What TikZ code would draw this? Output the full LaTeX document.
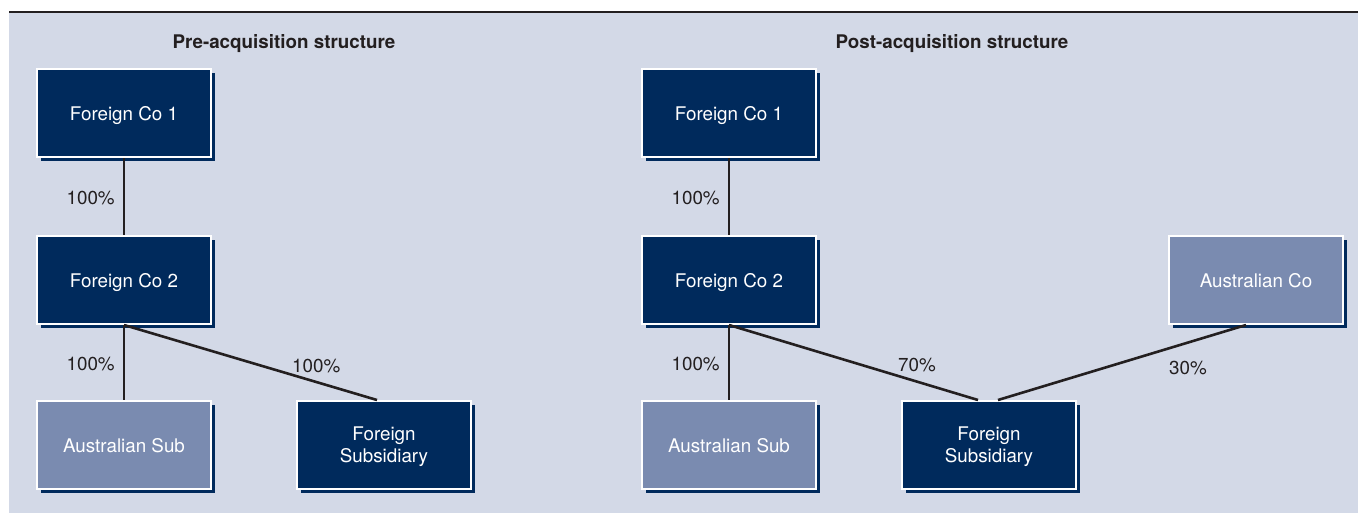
\documentclass[tikz,border=0pt]{standalone}
\usepackage{fontspec}
\setmainfont{TeX Gyre Heros}
\usetikzlibrary{positioning, shadows}

\definecolor{navy}{HTML}{002A5C}
\definecolor{steel}{HTML}{7A8BB0}
\definecolor{panel}{HTML}{D3D9E7}
\definecolor{ink}{HTML}{231F20}

\tikzset{
	company/.style={draw=white, line width=2pt, fill=navy, text=white,
		minimum width=174pt, minimum height=88pt, align=center, text depth=0pt,
		font=\fontsize{18.8}{22}\selectfont,
		drop shadow={shadow xshift=4pt, shadow yshift=-4pt, fill=navy, opacity=1}},
	local/.style={company, fill=steel},
	share/.style={draw=ink, line width=2.6pt},
	pct/.style={text=ink, font=\fontsize{18.8}{22}\selectfont, inner sep=2pt, yshift=-2pt},
	heading/.style={text=ink, font=\bfseries\fontsize{18.8}{22}\selectfont}
}

\begin{document}
\begin{tikzpicture}[x=1pt, y=-1pt]

\useasboundingbox (0,0) rectangle (1358,515);
\fill[panel] (9,13) rectangle (1358,513);
\draw[ink, line width=1.5pt] (9,12) -- (1358,12);

% pre-acquisition
\node[heading] (preTitle) at (284,44) {Pre-acquisition structure};
\node[company] (preFc1) at (124,113) {Foreign Co 1};
\node[company] (preFc2) at (124,280) {Foreign Co 2};
\node[local] (preAus) at (124,445) {Australian Sub};
\node[company] (preSub) at (384,445) {Foreign\\Subsidiary};

\draw[share] (preFc1) -- node[pct, left=6pt] (preL1) {100\%} (preFc2);
\draw[share] (preFc2) -- node[pct, left=6pt] (preL2) {100\%} (preAus);
\draw[share] (preFc2.south) -- node[pct, pos=0.76, above=8pt] (preL3) {100\%} ([xshift=-7pt]preSub.north);

% post-acquisition
\node[heading] (postTitle) at (952,44) {Post-acquisition structure};
\node[company] (postFc1) at (729,113) {Foreign Co 1};
\node[company] (postFc2) at (729,280) {Foreign Co 2};
\node[local] (postAusCo) at (1256,280) {Australian Co};
\node[local] (postAus) at (729,445) {Australian Sub};
\node[company] (postSub) at (989,445) {Foreign\\Subsidiary};

\draw[share] (postFc1) -- node[pct, left=6pt] (postL1) {100\%} (postFc2);
\draw[share] (postFc2) -- node[pct, left=6pt] (postL2) {100\%} (postAus);
\draw[share] (postFc2.south) -- node[pct, pos=0.755, above=8pt] (postL3) {70\%} ([xshift=-11pt]postSub.north);
\draw[share] ([xshift=-10pt]postAusCo.south) -- node[pct, pos=0.234, below=13pt] (postL4) {30\%} ([xshift=9pt]postSub.north);

\end{tikzpicture}
\end{document}
